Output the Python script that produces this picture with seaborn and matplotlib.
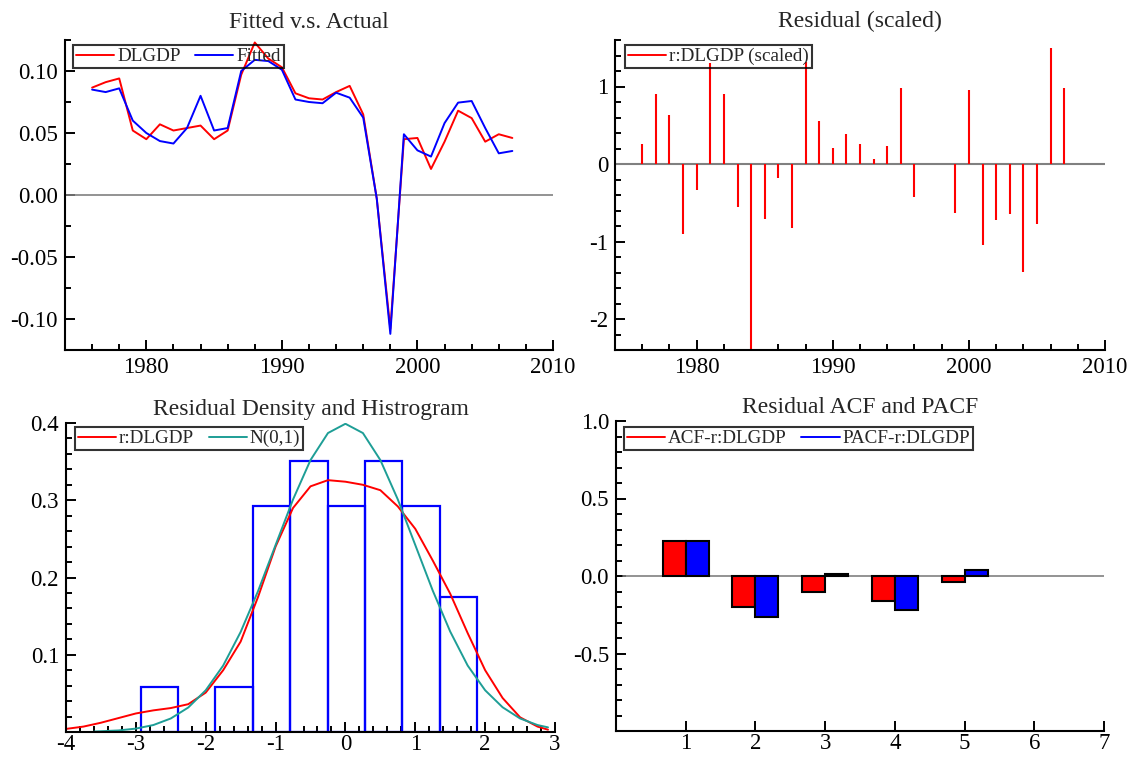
import numpy as np
import pandas as pd
import matplotlib
matplotlib.use("Agg")
import matplotlib.pyplot as plt
import seaborn as sns
from matplotlib.lines import Line2D
from matplotlib.ticker import MultipleLocator, FixedLocator, FormatStrFormatter

# ---- data ----
years = list(range(1976, 2008))
dlgdp = [0.0866, 0.091, 0.094, 0.052, 0.045, 0.057, 0.052, 0.054, 0.056, 0.045,
         0.052, 0.097, 0.123, 0.110, 0.103, 0.082, 0.078, 0.077, 0.083, 0.088,
         0.065, -0.003, -0.108, 0.045, 0.046, 0.021, 0.043, 0.068, 0.062, 0.043,
         0.049, 0.046]
fitted = [0.085, 0.083, 0.086, 0.060, 0.050, 0.0435, 0.0415, 0.054, 0.080, 0.052,
          0.054, 0.100, 0.109, 0.108, 0.101, 0.077, 0.075, 0.074, 0.0825, 0.0785,
          0.0624, -0.003, -0.112, 0.049, 0.036, 0.031, 0.058, 0.0745, 0.0758, 0.054,
          0.0336, 0.0355]
resid_scaled = [0.258, 0.903, 0.632, -0.903, -0.335, 1.30, 0.903, -0.559, -2.4, -0.71,
                -0.185, -0.83, 1.32, 0.559, 0.21, 0.383, 0.258, 0.06, 0.232, 0.976,
                -0.42, -0.005, -0.005, -0.628, 0.955, -1.045, -0.723, -0.65, -1.39, -0.774,
                1.50, 0.976]

hist_edges = [-2.93, -2.395, -1.86, -1.325, -0.79, -0.255, 0.28, 0.815, 1.35, 1.885]
hist_density = [0.0585, 0.0, 0.0585, 0.292, 0.351, 0.292, 0.351, 0.292, 0.175]

kde_x = [-4.0, -3.75, -3.5, -3.25, -3.0, -2.75, -2.5, -2.25, -2.0, -1.75, -1.5, -1.25,
         -1.0, -0.75, -0.5, -0.25, 0.0, 0.25, 0.5, 0.75, 1.0, 1.25, 1.5, 1.75, 2.0,
         2.25, 2.5, 2.75, 2.9]
kde_y = [0.004, 0.007, 0.012, 0.018, 0.024, 0.028, 0.031, 0.036, 0.051, 0.080, 0.117,
         0.175, 0.240, 0.290, 0.318, 0.326, 0.324, 0.320, 0.313, 0.292, 0.263, 0.222,
         0.179, 0.128, 0.080, 0.044, 0.019, 0.007, 0.003]

norm_x = [-3.6, -3.25, -3.0, -2.75, -2.5, -2.25, -2.0, -1.75, -1.5, -1.25, -1.0, -0.75,
          -0.5, -0.25, 0.0, 0.25, 0.5, 0.75, 1.0, 1.25, 1.5, 1.75, 2.0, 2.25, 2.5,
          2.75, 2.9]
norm_y = [0.0006, 0.002, 0.0044, 0.009, 0.0175, 0.0317, 0.054, 0.086, 0.1295, 0.1826,
          0.242, 0.301, 0.352, 0.387, 0.399, 0.387, 0.352, 0.301, 0.242, 0.183, 0.130,
          0.086, 0.054, 0.032, 0.0175, 0.009, 0.006]

lags = [1, 2, 3, 4, 5]
acf = [0.224, -0.202, -0.102, -0.163, -0.039]
pacf = [0.224, -0.267, 0.013, -0.217, 0.039]

RED = "#ff0000"
BLUE = "#0000ff"
TEAL = "#1e9e96"

sns.set_style("ticks")
plt.rcParams["font.family"] = ["Liberation Serif", "DejaVu Serif"]
plt.rcParams["axes.unicode_minus"] = False

W, H = 1134, 759
fig = plt.figure(figsize=(W / 100, H / 100), dpi=100)


def box(l, t, r, b):
    return [l / W, 1 - b / H, (r - l) / W, (b - t) / H]


ax1 = fig.add_axes(box(65, 40, 553, 350))
ax2 = fig.add_axes(box(615, 40, 1105, 350))
ax3 = fig.add_axes(box(66, 423, 555, 732))
ax4 = fig.add_axes(box(616, 421, 1104, 731))


def style(ax, xpad=5):
    for s in ["top", "right"]:
        ax.spines[s].set_visible(False)
    for s in ["left", "bottom"]:
        ax.spines[s].set_linewidth(1.5)
        ax.spines[s].set_color("black")
    ax.tick_params(which="both", direction="in", width=1.4, colors="black",
                   labelsize=16.5, pad=5)
    ax.tick_params(axis="x", which="both", pad=xpad)
    ax.tick_params(which="major", length=7)
    ax.tick_params(which="minor", length=4)


def legend(ax, handles, labels, dx, dy, ncol):
    lg = ax.legend(handles, labels, loc="upper left", ncol=ncol,
                   bbox_to_anchor=(dx, dy), borderaxespad=0, fontsize=13.8,
                   fancybox=False, frameon=True, borderpad=0.15,
                   handlelength=2.0, handletextpad=0.15, columnspacing=0.75)
    fr = lg.get_frame()
    fr.set_edgecolor("black")
    fr.set_linewidth(1.5)
    fr.set_facecolor("none")
    return lg


ts = pd.DataFrame({"year": years, "DLGDP": dlgdp, "Fitted": fitted})

# ---- Fitted v.s. Actual ----
style(ax1)
ax1.axhline(0, color="gray", lw=1.2, zorder=1)
sns.lineplot(data=ts, x="year", y="DLGDP", color=RED, lw=1.4, ax=ax1)
sns.lineplot(data=ts, x="year", y="Fitted", color=BLUE, lw=1.4, ax=ax1)
ax1.set_xlim(1974, 2010)
ax1.set_ylim(-0.125, 0.125)
ax1.xaxis.set_major_locator(FixedLocator([1980, 1990, 2000, 2010]))
ax1.xaxis.set_minor_locator(MultipleLocator(2))
ax1.yaxis.set_major_locator(FixedLocator([-0.10, -0.05, 0.0, 0.05, 0.10]))
ax1.yaxis.set_minor_locator(MultipleLocator(0.025))
ax1.yaxis.set_major_formatter(FormatStrFormatter("%.2f"))
ax1.set_xlabel("")
ax1.set_ylabel("")
ax1.set_title("Fitted v.s. Actual", fontsize=17, pad=9)
legend(ax1, [Line2D([], [], color=RED, lw=1.4), Line2D([], [], color=BLUE, lw=1.4)],
       ["DLGDP", "Fitted"], 8 / 488, 1 - 5 / 310, 2)

# ---- Residual (scaled) ----
style(ax2)
ax2.axhline(0, color="gray", lw=1.5, zorder=1)
ax2.vlines(years, 0, resid_scaled, color=RED, lw=1.5, zorder=2)
ax2.set_xlim(1974, 2010)
ax2.set_ylim(-2.4, 1.6)
ax2.xaxis.set_major_locator(FixedLocator([1980, 1990, 2000, 2010]))
ax2.xaxis.set_minor_locator(MultipleLocator(2))
ax2.yaxis.set_major_locator(FixedLocator([-2, -1, 0, 1]))
ax2.yaxis.set_minor_locator(MultipleLocator(0.2))
ax2.yaxis.set_major_formatter(FormatStrFormatter("%d"))
ax2.set_title("Residual (scaled)", fontsize=17, pad=9)
legend(ax2, [Line2D([], [], color=RED, lw=1.4)], ["r:DLGDP (scaled)"],
       10 / 490, 1 - 5 / 310, 1)

# ---- Residual Density and Histrogram ----
style(ax3, xpad=1.5)
centers = [(a + b) / 2 for a, b in zip(hist_edges[:-1], hist_edges[1:])]
sns.histplot(x=centers, weights=hist_density, bins=hist_edges, fill=False,
             element="bars", color=BLUE, edgecolor=BLUE, linewidth=1.6, ax=ax3)
kde_df = pd.DataFrame({"x": kde_x, "y": kde_y})
norm_df = pd.DataFrame({"x": norm_x, "y": norm_y})
sns.lineplot(data=kde_df, x="x", y="y", color=RED, lw=1.4, ax=ax3)
sns.lineplot(data=norm_df, x="x", y="y", color=TEAL, lw=1.4, ax=ax3)
ax3.set_xlim(-4, 3)
ax3.set_ylim(0, 0.4)
ax3.xaxis.set_major_locator(MultipleLocator(1))
ax3.xaxis.set_minor_locator(MultipleLocator(0.2))
ax3.yaxis.set_major_locator(FixedLocator([0.1, 0.2, 0.3, 0.4]))
ax3.yaxis.set_minor_locator(MultipleLocator(0.02))
ax3.yaxis.set_major_formatter(FormatStrFormatter("%.1f"))
ax3.set_xlabel("")
ax3.set_ylabel("")
ax3.set_title("Residual Density and Histrogram", fontsize=17, pad=6)
legend(ax3, [Line2D([], [], color=RED, lw=1.4), Line2D([], [], color=TEAL, lw=1.4)],
       ["r:DLGDP", "N(0,1)"], 9 / 489, 1 - 4 / 311, 2)

# ---- Residual ACF and PACF ----
style(ax4, xpad=1.5)
ax4.axhline(0, xmin=0.1 / 7, color="gray", lw=1.2, zorder=1)
ax4.bar(lags, acf, width=-0.33, align="edge", color=RED, edgecolor="black",
        lw=1.5, zorder=2)
ax4.bar(lags, pacf, width=0.33, align="edge", color=BLUE, edgecolor="black",
        lw=1.5, zorder=2)
ax4.set_xlim(0, 7)
ax4.set_ylim(-1, 1)
ax4.xaxis.set_major_locator(FixedLocator([1, 2, 3, 4, 5, 6, 7]))
ax4.yaxis.set_major_locator(FixedLocator([-0.5, 0.0, 0.5, 1.0]))
ax4.yaxis.set_minor_locator(MultipleLocator(0.1))
ax4.yaxis.set_major_formatter(FormatStrFormatter("%.1f"))
ax4.set_title("Residual ACF and PACF", fontsize=17, pad=6)
legend(ax4, [Line2D([], [], color=RED, lw=1.4), Line2D([], [], color=BLUE, lw=1.4)],
       ["ACF-r:DLGDP", "PACF-r:DLGDP"], 8 / 488, 1 - 6 / 310, 2)

fig.savefig("out.png", dpi=100)
